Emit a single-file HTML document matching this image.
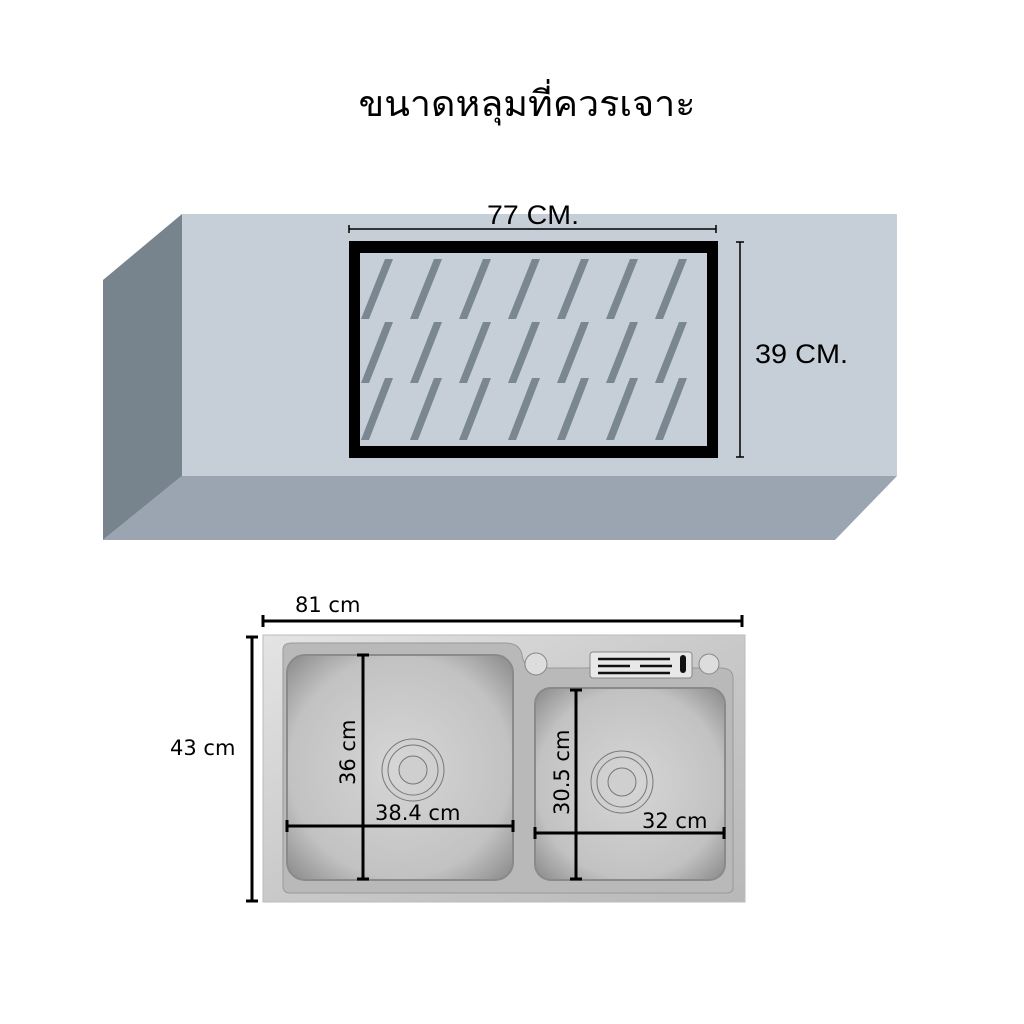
<!DOCTYPE html>
<html><head><meta charset="utf-8"><style>
html,body{margin:0;padding:0;background:#fff;width:1024px;height:1024px;overflow:hidden}
svg{display:block}
text{font-family:"Liberation Sans",sans-serif}
</style></head><body>
<svg width="1024" height="1024" viewBox="0 0 1024 1024" xmlns="http://www.w3.org/2000/svg">
<defs>
<linearGradient id="steel" x1="0" y1="0" x2="1" y2="1">
<stop offset="0" stop-color="#e4e4e4"/><stop offset="0.5" stop-color="#c9c9c9"/><stop offset="1" stop-color="#b8b8b8"/>
</linearGradient>
<radialGradient id="bowl" cx="0.5" cy="0.5" r="0.7">
<stop offset="0" stop-color="#d6d6d6"/><stop offset="0.7" stop-color="#c2c2c2"/><stop offset="1" stop-color="#8a8a8a"/>
</radialGradient>
</defs>
<text x="527" y="116" font-size="36" text-anchor="middle" textLength="337" lengthAdjust="spacingAndGlyphs" style="font-family:'Liberation Sans','DejaVu Sans',sans-serif">ขนาดหลุมที่ควรเจาะ</text>

<!-- countertop -->
<polygon points="182,214 897,214 897,476 182,476" fill="#c6ced8"/>
<polygon points="103,280 182,214 182,476 103,540" fill="#77848e"/>
<polygon points="103,540 182,476 897,476 835,540" fill="#9aa5b1"/>
<rect x="349" y="241" width="369" height="217" fill="#000"/>
<rect x="360" y="253" width="347" height="193" fill="#c6ced8"/>
<g fill="#7a8690">
<polygon points="361,319 369,319 393,259 385,259"/>
<polygon points="410,319 418,319 442,259 434,259"/>
<polygon points="459,319 467,319 491,259 483,259"/>
<polygon points="508,319 516,319 540,259 532,259"/>
<polygon points="557,319 565,319 589,259 581,259"/>
<polygon points="606,319 614,319 638,259 630,259"/>
<polygon points="655,319 663,319 687,259 679,259"/>
<polygon points="361,383 369,383 393,322 385,322"/>
<polygon points="410,383 418,383 442,322 434,322"/>
<polygon points="459,383 467,383 491,322 483,322"/>
<polygon points="508,383 516,383 540,322 532,322"/>
<polygon points="557,383 565,383 589,322 581,322"/>
<polygon points="606,383 614,383 638,322 630,322"/>
<polygon points="655,383 663,383 687,322 679,322"/>
<polygon points="361,440 369,440 393,378 385,378"/>
<polygon points="410,440 418,440 442,378 434,378"/>
<polygon points="459,440 467,440 491,378 483,378"/>
<polygon points="508,440 516,440 540,378 532,378"/>
<polygon points="557,440 565,440 589,378 581,378"/>
<polygon points="606,440 614,440 638,378 630,378"/>
<polygon points="655,440 663,440 687,378 679,378"/>
</g>
<g stroke="#000" stroke-width="1.5">
<line x1="349" y1="229" x2="716" y2="229"/><line x1="349" y1="225" x2="349" y2="233"/><line x1="716" y1="225" x2="716" y2="233"/>
<line x1="740" y1="242" x2="740" y2="457"/><line x1="736" y1="242" x2="744" y2="242"/><line x1="736" y1="457" x2="744" y2="457"/>
</g>
<text x="533" y="224" font-size="27" text-anchor="middle" textLength="92" lengthAdjust="spacingAndGlyphs">77 CM.</text>
<text x="755" y="363" font-size="27" textLength="93" lengthAdjust="spacingAndGlyphs">39 CM.</text>

<!-- sink -->
<rect x="263" y="635" width="482" height="267" fill="url(#steel)" stroke="#bbb"/>
<path d="M283,650 Q283,643 292,643 H505 Q520,643 522,655 Q524,668 535,668 H720 Q733,668 733,678 V888 Q733,893 726,893 H290 Q283,893 283,886 Z" fill="#b9b9b9" stroke="#999"/>
<rect x="287" y="655" width="226" height="225" rx="18" fill="url(#bowl)" stroke="#8a8a8a" stroke-width="2"/>
<rect x="535" y="688" width="190" height="192" rx="16" fill="url(#bowl)" stroke="#8a8a8a" stroke-width="2"/>
<circle cx="536" cy="664" r="11" fill="#ddd" stroke="#888"/>
<circle cx="709" cy="664" r="10" fill="#ddd" stroke="#888"/>
<rect x="590" y="652" width="102" height="26" rx="3" fill="#e8e8e8" stroke="#888"/>
<g stroke="#111" stroke-width="2.5"><line x1="598" y1="659" x2="670" y2="659"/><line x1="598" y1="666" x2="630" y2="666"/><line x1="640" y1="666" x2="672" y2="666"/><line x1="598" y1="673" x2="670" y2="673"/></g>
<rect x="680" y="655" width="6" height="18" rx="3" fill="#111"/>
<g fill="none" stroke="#777">
<circle cx="413" cy="770" r="31"/><circle cx="413" cy="770" r="25"/><circle cx="413" cy="770" r="14" fill="#cfcfcf"/>
<circle cx="622" cy="782" r="31"/><circle cx="622" cy="782" r="25"/><circle cx="622" cy="782" r="14" fill="#cfcfcf"/>
</g>
<g stroke="#000" stroke-width="3">
<line x1="263" y1="621" x2="742" y2="621"/><line x1="263" y1="615" x2="263" y2="627"/><line x1="742" y1="615" x2="742" y2="627"/>
<line x1="252" y1="637" x2="252" y2="901"/><line x1="246" y1="637" x2="258" y2="637"/><line x1="246" y1="901" x2="258" y2="901"/>
<line x1="363" y1="655" x2="363" y2="879"/><line x1="357" y1="655" x2="369" y2="655"/><line x1="357" y1="879" x2="369" y2="879"/>
<line x1="287" y1="826" x2="513" y2="826"/><line x1="287" y1="820" x2="287" y2="832"/><line x1="513" y1="820" x2="513" y2="832"/>
<line x1="576" y1="690" x2="576" y2="879"/><line x1="570" y1="690" x2="582" y2="690"/><line x1="570" y1="879" x2="582" y2="879"/>
<line x1="535" y1="833" x2="724" y2="833"/><line x1="535" y1="827" x2="535" y2="839"/><line x1="724" y1="827" x2="724" y2="839"/>
</g>
<text x="295" y="612" font-size="21" style="font-family:'DejaVu Sans',sans-serif">81 cm</text>
<text x="170" y="755" font-size="21" style="font-family:'DejaVu Sans',sans-serif">43 cm</text>
<text x="375" y="820" font-size="21" style="font-family:'DejaVu Sans',sans-serif">38.4 cm</text>
<text x="642" y="828" font-size="21" style="font-family:'DejaVu Sans',sans-serif">32 cm</text>
<text transform="translate(355,785) rotate(-90)" font-size="21" style="font-family:'DejaVu Sans',sans-serif">36 cm</text>
<text transform="translate(569,815) rotate(-90)" font-size="21" style="font-family:'DejaVu Sans',sans-serif">30.5 cm</text>
</svg>
</body></html>
